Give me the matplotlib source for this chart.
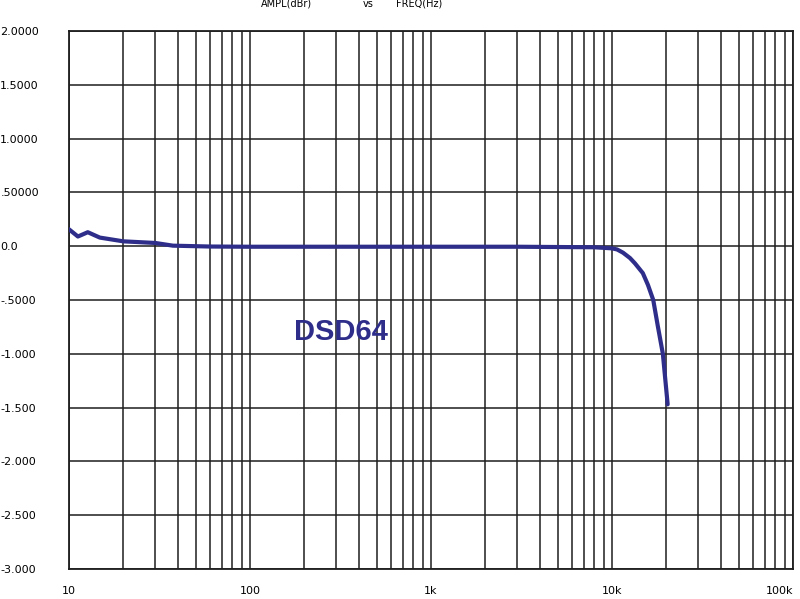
import matplotlib
matplotlib.use('Agg')
import matplotlib.pyplot as plt
import numpy as np

# frequency response
freq = [10, 11.2, 12.7, 14.8, 20, 30, 37.5, 60, 100, 300, 1000, 3000,
        8000, 10000, 10660, 11500, 12570, 13400, 14800, 15800, 16900, 17900,
        19100, 20300]
ampl = [0.157, 0.09, 0.13, 0.08, 0.045, 0.03, 0.005, -0.003, -0.005, -0.005,
        -0.005, -0.005, -0.01, -0.02, -0.03, -0.06, -0.11, -0.16, -0.25, -0.36,
        -0.5, -0.74, -1.0, -1.47]

yticks = [2.0, 1.5, 1.0, 0.5, 0.0, -0.5, -1.0, -1.5, -2.0, -2.5, -3.0]
ylabels = ['2.0000', '1.5000', '1.0000', '.50000', '0.0', '-.5000',
           '-1.000', '-1.500', '-2.000', '-2.500', '-3.000']
xticks = [10, 100, 1000, 10000, 100000]
xlabels = ['10', '100', '1k', '10k', '100k']

navy = '#2e2e8a'
gridc = '#1e1e1e'

fig = plt.figure(figsize=(8, 5.99), dpi=100)
ax = fig.add_axes([69/800, 30/599, 724/800, 538/599])

ax.set_xscale('log')
ax.set_xlim(10, 100000)
ax.set_ylim(-3, 2)

ax.plot(freq, ampl, color=navy, lw=3.0, solid_capstyle='round',
        solid_joinstyle='round', zorder=3)

ax.set_xticks(xticks)
ax.set_xticklabels(xlabels, fontsize=8)
ax.get_xticklabels()[-1].set_ha('right')
ax.set_yticks(yticks)
ax.set_yticklabels(ylabels, fontsize=8, ha='left')
ax.tick_params(axis='y', which='both', length=0, pad=49.5)
ax.tick_params(axis='x', which='both', length=0, pad=12)
ax.xaxis.set_minor_locator(matplotlib.ticker.LogLocator(base=10, subs=np.arange(2, 10)))
ax.xaxis.set_minor_formatter(matplotlib.ticker.NullFormatter())

ax.grid(True, which='both', axis='x', color=gridc, lw=1.1)
ax.grid(True, which='major', axis='y', color=gridc, lw=1.1)
for s in ax.spines.values():
    s.set_color(gridc)
    s.set_linewidth(1.3)

ax.text(318, -0.80, 'DSD64', color=navy, fontsize=21, fontweight='bold',
        family='Liberation Sans', ha='center', va='center', zorder=4)

fig.text(286/800, 1 - 4/599, 'AMPL(dBr)', fontsize=7, ha='center', va='center')
fig.text(368/800, 1 - 4/599, 'vs', fontsize=7, ha='center', va='center')
fig.text(419/800, 1 - 4/599, 'FREQ(Hz)', fontsize=7, ha='center', va='center')

fig.savefig('out.png', dpi=100)
